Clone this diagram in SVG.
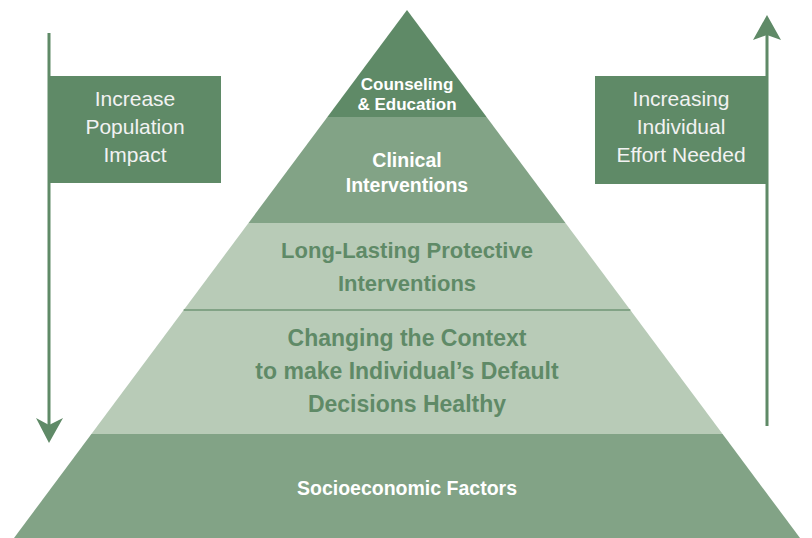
<svg xmlns="http://www.w3.org/2000/svg" width="812" height="538" viewBox="0 0 812 538">
<style>
.dark{fill:#5f8a67}
.mid{fill:#82a386}
.light{fill:#b8cbb7}
.wt{fill:#ffffff;font-family:"Liberation Sans",Arial,sans-serif;font-weight:bold;text-anchor:middle}
.gt{fill:#5f8a67;font-family:"Liberation Sans",Arial,sans-serif;font-weight:bold;text-anchor:middle;font-size:22px}
.gt23{font-size:23px}
.bt{fill:#f2f2f2;font-family:"Liberation Sans",Arial,sans-serif;font-size:21px;text-anchor:middle}
.shaft{stroke:#5f8a67;stroke-width:3;fill:none}
</style>
<rect width="812" height="538" fill="#ffffff"/>
<g id="pyramid">
<g id="socioeconomic">
<polygon class="mid" points="91.4,434 722.6,434 800,538 14,538"/>
<text class="wt" x="407" y="495" font-size="19.5">Socioeconomic Factors</text>
</g>
<g id="changing-context">
<polygon class="light" points="183.7,310 630.3,310 722.6,434 91.4,434"/>
<text class="gt gt23" x="407" y="346">Changing the Context</text>
<text class="gt gt23" x="407" y="379">to make Individual’s Default</text>
<text class="gt gt23" x="407" y="412">Decisions Healthy</text>
</g>
<g id="long-lasting">
<polygon class="light" points="248.5,223 565.5,223 630.3,310 183.7,310"/>
<line x1="183.7" y1="310" x2="630.3" y2="310" stroke="#82a386" stroke-width="2"/>
<text class="gt" x="407" y="258">Long-Lasting Protective</text>
<text class="gt" x="407" y="291">Interventions</text>
</g>
<g id="clinical">
<polygon class="mid" points="327.4,117 486.6,117 565.5,223 248.5,223"/>
<text class="wt" x="407" y="167" font-size="19.5">Clinical</text>
<text class="wt" x="407" y="192" font-size="19.5">Interventions</text>
</g>
<g id="counseling">
<polygon class="dark" points="407,10 486.6,117 327.4,117"/>
<text class="wt" x="407" y="90" font-size="17">Counseling</text>
<text class="wt" x="407" y="110" font-size="17">&amp; Education</text>
</g>
</g>
<g id="connectors">
<line class="shaft" x1="49" y1="33" x2="49" y2="428"/>
<polygon class="dark" points="49,443 36,418 49,425 63,418"/>
<line class="shaft" x1="767" y1="426" x2="767" y2="32"/>
<polygon class="dark" points="767,15 753,40 767,35 781,40"/>
</g>
<g id="box-population">
<rect class="dark" x="49" y="76" width="172" height="107"/>
<text class="bt" x="135" y="106">Increase</text>
<text class="bt" x="135" y="134">Population</text>
<text class="bt" x="135" y="162">Impact</text>
</g>
<g id="box-effort">
<rect class="dark" x="595" y="76" width="172" height="108"/>
<text class="bt" x="681" y="106">Increasing</text>
<text class="bt" x="681" y="134">Individual</text>
<text class="bt" x="681" y="162">Effort Needed</text>
</g>
</svg>
